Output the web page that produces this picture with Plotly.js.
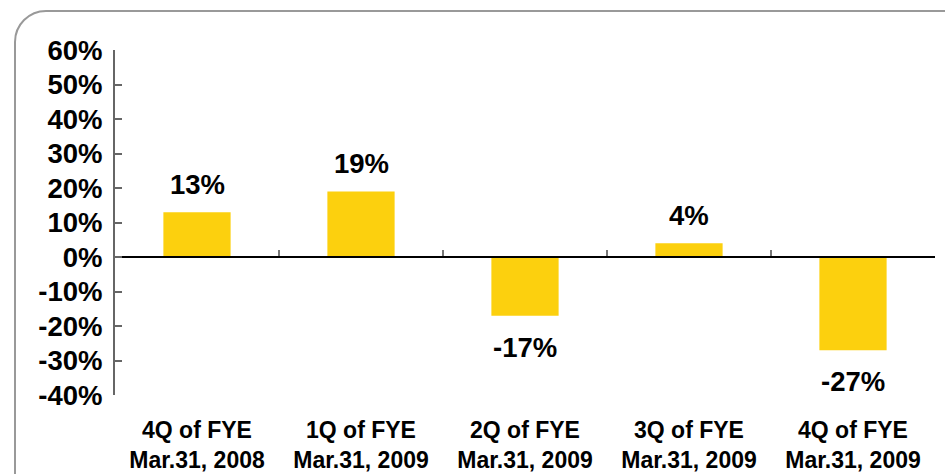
<!DOCTYPE html>
<html>
<head>
<meta charset="utf-8">
<script src="https://cdn.plot.ly/plotly-3.0.1.min.js"></script>
<style>
  html, body { margin: 0; padding: 0; width: 945px; height: 474px; overflow: hidden; background: #fff; }
  #chart { position: absolute; left: 0; top: 0; width: 945px; height: 474px; }
  #frame { position: absolute; left: 14px; top: 10px; width: 980px; height: 520px;
           border: 2px solid #999; border-radius: 32px; pointer-events: none; box-sizing: border-box; }
</style>
</head>
<body>
<div id="frame"></div>
<div id="chart"></div>
<script>
const categories = [
  "4Q of FYE<br>Mar.31, 2008",
  "1Q of FYE<br>Mar.31, 2009",
  "2Q of FYE<br>Mar.31, 2009",
  "3Q of FYE<br>Mar.31, 2009",
  "4Q of FYE<br>Mar.31, 2009"
];
const values = [13, 19, -17, 4, -27];
const yTickValues = [-40, -30, -20, -10, 0, 10, 20, 30, 40, 50, 60];

const FONT = "Liberation Sans, Arial, Helvetica, sans-serif";

const trace = {
  type: "bar",
  x: categories,
  y: values,
  marker: { color: "#FCD00E" },
  hoverinfo: "skip"
};

const annotations = categories.map((c, i) => ({
  x: c,
  y: values[i],
  xref: "x",
  yref: "y",
  text: values[i] + "%",
  showarrow: false,
  yanchor: values[i] >= 0 ? "bottom" : "top",
  yshift: values[i] >= 0 ? 10 : -14,
  font: { family: FONT, size: 27.5, color: "#000", weight: "bold" }
}));

const layout = {
  width: 945,
  height: 474,
  margin: { l: 115, r: 10, t: 50, b: 79 },
  paper_bgcolor: "rgba(0,0,0,0)",
  plot_bgcolor: "rgba(0,0,0,0)",
  showlegend: false,
  bargap: 0.59,
  font: { family: FONT, color: "#000" },
  xaxis: {
    type: "category",
    anchor: "free",
    position: 0.4,
    showline: true,
    linecolor: "#000",
    linewidth: 2,
    ticks: "inside",
    tickson: "boundaries",
    ticklen: 6,
    tickwidth: 2,
    tickcolor: "#777",
    showgrid: false,
    zeroline: false,
    ticklabelstandoff: 152,
    tickfont: { family: FONT, size: 23, color: "#000", weight: "bold" },
    fixedrange: true
  },
  yaxis: {
    range: [-40, 60],
    tickmode: "array",
    tickvals: yTickValues,
    ticktext: yTickValues.map(v => v + "%"),
    showline: true,
    linecolor: "#666",
    linewidth: 2,
    ticks: "inside",
    ticklen: 7,
    tickwidth: 2,
    tickcolor: "#666",
    showgrid: false,
    zeroline: false,
    ticklabelstandoff: 5,
    tickfont: { family: FONT, size: 27.5, color: "#000", weight: "bold" },
    fixedrange: true
  },
  annotations: annotations
};

Plotly.newPlot("chart", [trace], layout, { displayModeBar: false, staticPlot: true });
</script>
</body>
</html>
